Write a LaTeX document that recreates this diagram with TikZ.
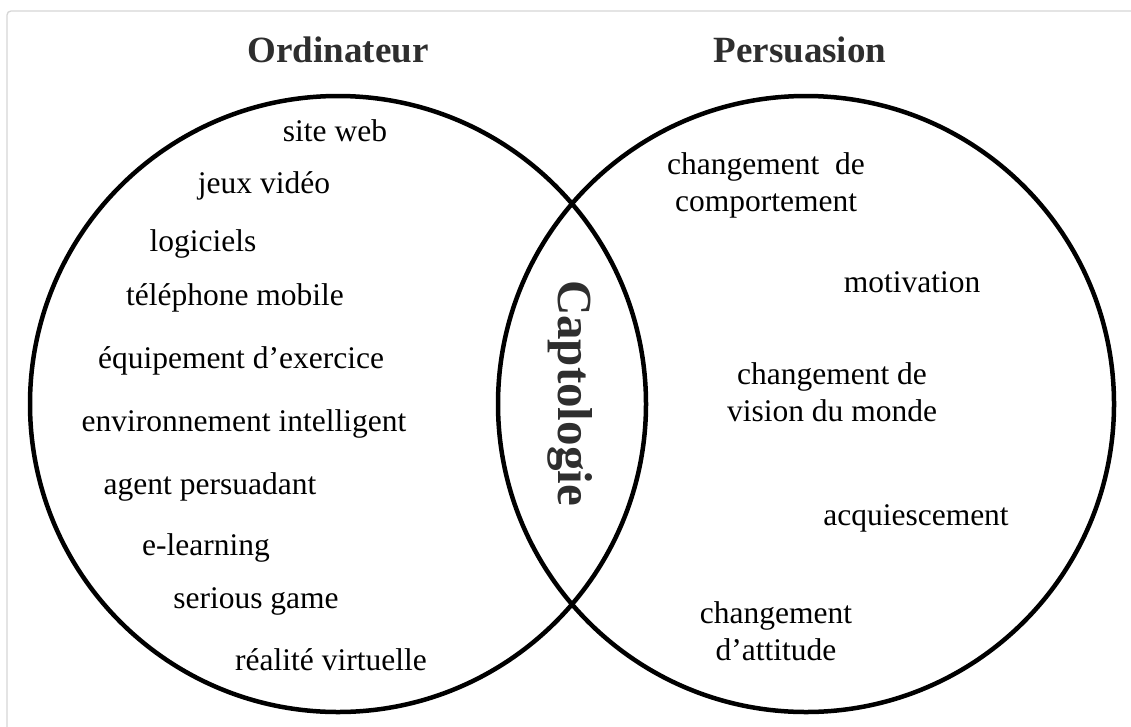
\documentclass[tikz,border=0pt]{standalone}
\usepackage{fontspec}
\setmainfont{Liberation Serif}
\definecolor{titlegray}{HTML}{2E2E2E}
\definecolor{framegray}{HTML}{D6D6D6}
\begin{document}
\begin{tikzpicture}[x=1pt,y=-1pt,
  setcircle/.style={circle, draw=black, line width=4.5pt, minimum size=616pt, inner sep=0pt},
  settitle/.style={font=\fontsize{37}{42}\selectfont\bfseries, text=titlegray, inner sep=0pt},
  item/.style={font=\fontsize{31.5}{37}\selectfont, text=black, inner sep=0pt, align=center},
  lens/.style={font=\fontsize{49}{54}\selectfont\bfseries, text=titlegray, inner sep=0pt, rotate=-90}]
\useasboundingbox (0,0) rectangle (1131,726);
\fill[white] (0,0) rectangle (1131,726);
\draw[framegray, line width=1.3pt, rounded corners=4pt] (1140,11) -- (7,11) -- (7,740);
\node[setcircle] (ord) at (338,404) {};
\node[setcircle] (per) at (806,404) {};
\node[settitle] (tord) at (338,50) {Ordinateur};
\node[settitle] (tper) at (800,50) {Persuasion};
\node[lens] (capt) at (570,393) {Captologie};
\node[item] (i1) at (335,131) {site web};
\node[item] (i2) at (264,186) {jeux vidéo};
\node[item] (i3) at (203,244) {logiciels};
\node[item] (i4) at (235,298) {téléphone mobile};
\node[item] (i5) at (241,361) {équipement d’exercice};
\node[item] (i6) at (244,424) {environnement intelligent};
\node[item] (i7) at (210,487) {agent persuadant};
\node[item] (i8) at (206,548) {e-learning};
\node[item] (i9) at (256,601) {serious game};
\node[item] (i10) at (331,660) {réalité virtuelle};
\node[item] (p1) at (766,185) {changement\ \ de\\comportement};
\node[item] (p2) at (912,282) {motivation};
\node[item] (p3) at (832,392) {changement de\\vision du monde};
\node[item] (p4) at (916,518) {acquiescement};
\node[item] (p5) at (776,631) {changement\\d’attitude};
\end{tikzpicture}
\end{document}
